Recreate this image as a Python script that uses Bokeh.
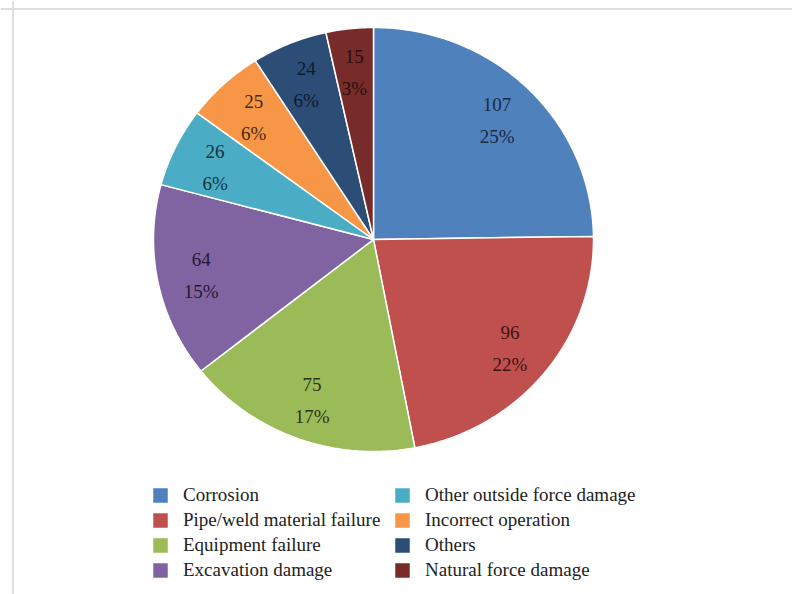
import numpy as np
from bokeh.plotting import figure
from bokeh.models import ColumnDataSource, Range1d, Span
from bokeh.core.properties import value
from bokeh.embed import file_html
from bokeh.resources import INLINE

categories = ["Corrosion", "Pipe/weld material failure", "Equipment failure",
              "Excavation damage", "Other outside force damage",
              "Incorrect operation", "Others", "Natural force damage"]
counts = [107, 96, 75, 64, 26, 25, 24, 15]
colors = ["#4F81BD", "#C0504D", "#9BBB59", "#8064A2",
          "#4BACC6", "#F79646", "#2C4D75", "#772C2A"]
text_colors = ["#1c2a44", "#3d1414", "#2a3418", "#251a33",
               "#12343c", "#4a2a10", "#0c1a2c", "#2a0c0c"]

# layout (pixel space)
W, H = 792, 594
CX, CY, RX, RY = 373, 239, 220, 212
LR = 0.80
FONT = "Liberation Serif"

total = float(sum(counts))
cum = np.concatenate([[0], np.cumsum(counts)]) / total * 2 * np.pi

xs, ys, lx, ly, vtxt, ptxt = [], [], [], [], [], []
for i, c in enumerate(counts):
    a0, a1 = cum[i], cum[i + 1]
    t = np.linspace(a0, a1, max(3, int((a1 - a0) * 80)))
    xs.append([CX] + list(CX + RX * np.sin(t)))
    ys.append([CY] + list(CY - RY * np.cos(t)))
    m = 0.5 * (a0 + a1)
    lx.append(CX + LR * RX * np.sin(m))
    ly.append(CY + 2 - LR * RY * np.cos(m))
    vtxt.append(str(c))
    ptxt.append("%d%%" % int(round(c / total * 100)))

src = ColumnDataSource(dict(xs=xs, ys=ys, color=colors, label=categories))
lsrc = ColumnDataSource(dict(x=lx, y=ly, v=vtxt, p=ptxt, tc=text_colors))

p = figure(width=W, height=H, x_range=Range1d(0, W), y_range=Range1d(H, 0),
           output_backend="svg", toolbar_location=None, min_border=0,
           outline_line_color=None, background_fill_color="white")
p.xaxis.visible = False
p.yaxis.visible = False
p.xgrid.visible = False
p.ygrid.visible = False

p.patches("xs", "ys", source=src, fill_color="color", line_color="white",
          line_width=1.5, legend_field="label")

p.text("x", "y", text="v", source=lsrc, text_color="tc", text_font=value(FONT),
       text_font_size="19px", text_align="center", text_baseline="middle",
       y_offset=-16)
p.text("x", "y", text="p", source=lsrc, text_color="tc", text_font=value(FONT),
       text_font_size="19px", text_align="center", text_baseline="middle",
       y_offset=16)

p.add_layout(Span(location=12.5, dimension="height", line_color="#dedede", line_width=2))
p.add_layout(Span(location=8.5, dimension="width", line_color="#dedede", line_width=2))

lg = p.legend[0]
lg.orientation = "vertical"
lg.nrows = 4
lg.location = (150, 13)
lg.padding = 0
lg.margin = 0
lg.spacing = 3
lg.glyph_width = 20
lg.glyph_height = 20
lg.label_height = 20
lg.label_width = 206
lg.label_standoff = 13
lg.label_text_font = FONT
lg.label_text_font_size = "19px"
lg.label_text_color = "#222222"
lg.border_line_color = None
lg.background_fill_alpha = 0

open("out.html", "w").write(file_html(p, INLINE))
